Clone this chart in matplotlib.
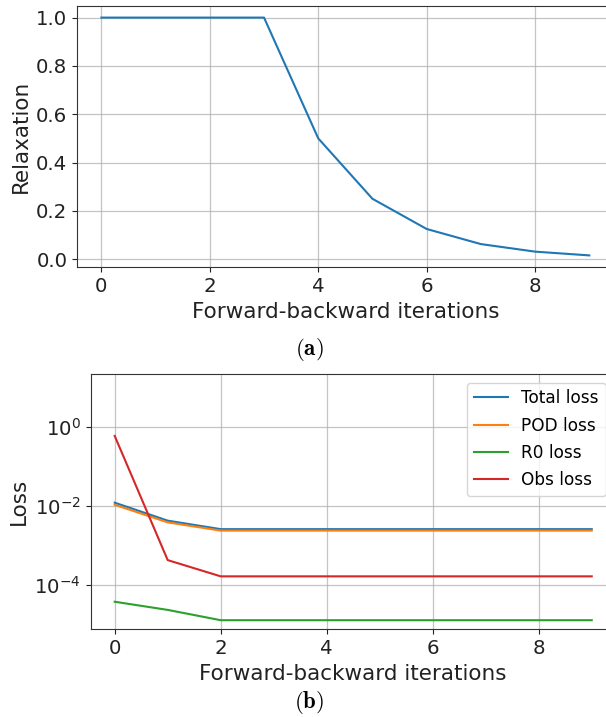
import matplotlib
matplotlib.use("Agg")
import matplotlib.pyplot as plt
import numpy as np

plt.rcParams['mathtext.fontset'] = 'cm'

iterations = [0, 1, 2, 3, 4, 5, 6, 7, 8, 9]
relaxation = [1.0, 1.0, 1.0, 1.0, 0.5, 0.25, 0.125, 0.0625, 0.03125, 0.015625]

total_loss = [1.2e-2, 4.2e-3, 2.56e-3, 2.56e-3, 2.56e-3, 2.56e-3, 2.56e-3, 2.56e-3, 2.56e-3, 2.56e-3]
pod_loss   = [1.06e-2, 3.8e-3, 2.35e-3, 2.35e-3, 2.35e-3, 2.35e-3, 2.35e-3, 2.35e-3, 2.35e-3, 2.35e-3]
r0_loss    = [3.7e-5, 2.3e-5, 1.26e-5, 1.26e-5, 1.26e-5, 1.26e-5, 1.26e-5, 1.26e-5, 1.26e-5, 1.26e-5]
obs_loss   = [0.59, 4.2e-4, 1.63e-4, 1.63e-4, 1.63e-4, 1.63e-4, 1.63e-4, 1.63e-4, 1.63e-4, 1.63e-4]
loss_labels = ["Total loss", "POD loss", "R0 loss", "Obs loss"]

W, H = 606, 717
fig = plt.figure(figsize=(W / 100, H / 100), dpi=100)

TICK = 14.2
LAB = 15.5
GRID = dict(color='#b0b0b0', lw=0.9, alpha=0.75)
CAP = dict(fontsize=16.5, ha='center', va='center')

# ---- (a)
ax1 = fig.add_axes([77 / W, 1 - 267.3 / H, (613.7 - 77) / W, (267.3 - 5.7) / H])
ax1.plot(iterations, relaxation, color='#1f77b4', lw=1.5)
ax1.grid(True, **GRID)
ax1.set_xticks([0, 2, 4, 6, 8])
ax1.set_yticks([0.0, 0.2, 0.4, 0.6, 0.8, 1.0])
ax1.tick_params(labelsize=TICK, colors='#222222')
ax1.set_xlabel("Forward-backward iterations", fontsize=LAB, color='#222222')
ax1.set_ylabel("Relaxation", fontsize=LAB, color='#222222')
for sp in ax1.spines.values():
    sp.set_color('#333333')

fig.text(309.5 / W, 1 - 349.5 / H, r'$\mathbf{(a)}$', **CAP)

# ---- (b)
ax2 = fig.add_axes([90.85 / W, 1 - 629.3 / H, (615.6 - 90.85) / W, (629.3 - 374) / H])
series = [total_loss, pod_loss, r0_loss, obs_loss]
colors = ['#1f77b4', '#ff7f0e', '#2ca02c', '#d62728']
for s, c, lab in zip(series, colors, loss_labels):
    ax2.plot(iterations, s, color=c, lw=1.5, label=lab)
ax2.set_yscale('log')
ax2.set_ylim(10 ** -5.13, 10 ** 1.34)
ax2.set_yticks([1e-4, 1e-2, 1e0])
ax2.minorticks_off()
ax2.grid(True, **GRID)
ax2.set_xticks([0, 2, 4, 6, 8])
ax2.tick_params(labelsize=TICK, colors='#222222')
ax2.set_xlabel("Forward-backward iterations", fontsize=LAB, color='#222222')
ax2.set_ylabel("Loss", fontsize=LAB, color='#222222')
for sp in ax2.spines.values():
    sp.set_color('#333333')
ax2.legend(loc='upper right', fontsize=12.2, labelspacing=0.55,
           bbox_to_anchor=(605.5 / W, 1 - 382.5 / H),
           bbox_transform=fig.transFigure, borderaxespad=0)

fig.text(309.5 / W, 1 - 702 / H, r'$\mathbf{(b)}$', **CAP)

fig.savefig("out.png", dpi=100)
